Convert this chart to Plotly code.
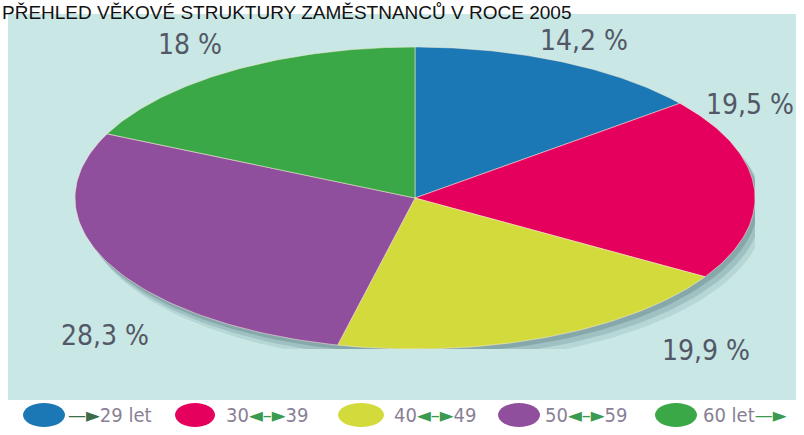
import numpy as np
import plotly.graph_objects as go

# data
groups = ['29 let', '30–39', '40–49', '50–59', '60 let']
shares = [14.2, 19.5, 19.9, 28.3, 18.0]
colors = ['#1b78b4', '#e6005e', '#d3db3c', '#8f4f9d', '#3aa846']
legend_texts = [
    '<span style="color:#3d6b4a">—►</span>29 let',
    '30<span style="color:#3a9a50">◄–►</span>39',
    '40<span style="color:#3a9a50">◄–►</span>49',
    '50<span style="color:#3a9a50">◄–►</span>59',
    '60 let<span style="color:#3a9a50">—►</span>',
]
title = 'PŘEHLED VĚKOVÉ STRUKTURY ZAMĚSTNANCŮ V ROCE 2005'

W, H = 804, 435
COND = 'DejaVu Sans Condensed, Liberation Sans Narrow, Arial Narrow, sans-serif'
fig = go.Figure()

# background panel
fig.add_shape(type='rect', xref='paper', yref='paper', layer='below',
              x0=8 / W, x1=796 / W, y0=1 - 400 / H, y1=1 - 14 / H,
              fillcolor='#c8e7e5', line=dict(width=0))

# wedges of a unit circle, stretched into an ellipse by the axis domains
total = sum(shares)
cum = np.concatenate([[0], np.cumsum(shares)]) / total

# soft drop shadow
t = np.linspace(0, 2 * np.pi, 200)
for dx, dy, op in [(0.03, -0.09, 0.12), (0.02, -0.06, 0.18), (0.01, -0.03, 0.25)]:
    fig.add_trace(go.Scatter(
        x=np.sin(t) + dx, y=np.cos(t) + dy,
        fill='toself', fillcolor=f'rgba(60,95,105,{op})',
        line=dict(width=0), mode='lines', hoverinfo='skip', showlegend=False))

for i, (g, v, c) in enumerate(zip(groups, shares, colors)):
    a = np.linspace(cum[i], cum[i + 1], 80) * 2 * np.pi
    xs = np.concatenate([[0], np.sin(a), [0]])
    ys = np.concatenate([[0], np.cos(a), [0]])
    fig.add_trace(go.Scatter(
        x=xs, y=ys, fill='toself', fillcolor=c, mode='lines',
        line=dict(color='rgba(255,240,220,0.5)', width=1),
        name=g, text=f'{g}: {v:.1f} %'.replace('.', ','), hoverinfo='text',
        showlegend=False))

# percentage labels
label_pos = [(584, 40), (750, 104), (706, 350), (105, 335), (190, 45)]
for v, (px, py) in zip(shares, label_pos):
    s = f'{v:g}'.replace('.', ',') + ' %'
    fig.add_annotation(
        x=px / W, y=1 - py / H, xref='paper', yref='paper', text=s,
        showarrow=False, xanchor='center', yanchor='middle',
        font=dict(family=COND, size=28, color='#535866'))

# legend
leg_x = [44, 195, 361, 519, 676]
leg_w = [42, 40, 46, 42, 42]
leg_tx = [107, 224, 392, 543, 701]
for cx, w, tx, c, lt in zip(leg_x, leg_w, leg_tx, colors, legend_texts):
    fig.add_shape(type='circle', xref='paper', yref='paper',
                  x0=(cx - w / 2) / W, x1=(cx + w / 2) / W,
                  y0=1 - 427 / H, y1=1 - 403 / H,
                  fillcolor=c, line=dict(width=0))
    if lt.startswith('<span'):
        tx = cx + w / 2 + 1
    fig.add_annotation(
        x=tx / W, y=1 - 415 / H, xref='paper', yref='paper', text=lt,
        showarrow=False, xanchor='left', yanchor='middle',
        font=dict(family=COND, size=20, color='#8a7f96'))

# title
fig.add_annotation(
    x=0, y=1, xref='paper', yref='paper', text=title,
    showarrow=False, xanchor='left', yanchor='top',
    font=dict(family='Liberation Sans, Arial', size=19, color='#111111'))

fig.update_layout(
    width=W, height=H,
    margin=dict(l=0, r=0, t=0, b=0),
    paper_bgcolor='white', plot_bgcolor='rgba(0,0,0,0)',
    xaxis=dict(domain=[75 / W, 755 / W], range=[-1, 1], visible=False, fixedrange=True),
    yaxis=dict(domain=[1 - 349 / H, 1 - 47 / H], range=[-1, 1], visible=False, fixedrange=True),
    showlegend=False,
)

fig.write_html('out.html', config={'displayModeBar': False},
               post_script="document.body.style.margin='0';")
